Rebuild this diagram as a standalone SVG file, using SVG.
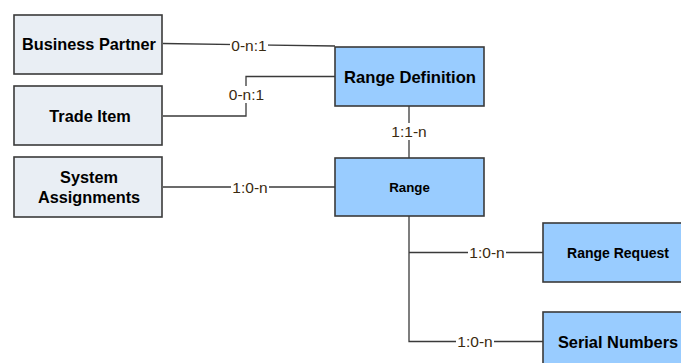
<svg xmlns="http://www.w3.org/2000/svg" width="681" height="363" viewBox="0 0 681 363">
<style>
.box{stroke:#3a3a3a;stroke-width:1.6}
.g{fill:#e9eef4}
.b{fill:#99ccff}
.t{font-family:"Liberation Sans",Arial,sans-serif;font-weight:bold;fill:#000;text-anchor:middle}
.c{fill:none;stroke:#3a3a3a;stroke-width:1.3}
.l{font-family:"Liberation Sans",Arial,sans-serif;font-size:15.5px;fill:#3a2a10;text-anchor:middle}
.lb{fill:#fff}
</style>
<rect width="681" height="363" fill="#fff"/>
<g id="connectors">
<polyline class="c" points="163,43.5 335,46"/>
<polyline class="c" points="163,116 246,116 246,76.5 335,76.5"/>
<line class="c" x1="163" y1="187" x2="335" y2="187"/>
<line class="c" x1="409" y1="106" x2="409" y2="158"/>
<polyline class="c" points="409,216 409,341.5 543,341.5"/>
<line class="c" x1="409" y1="252.5" x2="543" y2="252.5"/>
<rect class="lb" x="230" y="37" width="38" height="16"/>
<text class="l" x="249" y="51">0-n:1</text>
<rect class="lb" x="227" y="86" width="39" height="17"/>
<text class="l" x="246.5" y="100">0-n:1</text>
<rect class="lb" x="231" y="179" width="38" height="16"/>
<text class="l" x="250" y="193">1:0-n</text>
<rect class="lb" x="389" y="123" width="40" height="17"/>
<text class="l" x="409" y="137">1:1-n</text>
<rect class="lb" x="468" y="244" width="38" height="16"/>
<text class="l" x="487" y="258">1:0-n</text>
<rect class="lb" x="456" y="333" width="38" height="16"/>
<text class="l" x="475" y="347">1:0-n</text>
</g>
<g id="business-partner">
<rect class="box g" x="14" y="15" width="148" height="59"/>
<text class="t" x="89" y="50" font-size="16.3">Business Partner</text>
</g>
<g id="trade-item">
<rect class="box g" x="14" y="86" width="148" height="59"/>
<text class="t" x="90" y="121.5" font-size="16.3">Trade Item</text>
</g>
<g id="system-assignments">
<rect class="box g" x="14" y="157" width="148" height="60"/>
<text class="t" x="89" y="182.5" font-size="16.3">System</text>
<text class="t" x="89" y="202.5" font-size="16.3">Assignments</text>
</g>
<g id="range-definition">
<rect class="box b" x="335" y="47" width="149" height="59"/>
<text class="t" x="410" y="82.5" font-size="16.6">Range Definition</text>
</g>
<g id="range">
<rect class="box b" x="335" y="158" width="149" height="58"/>
<text class="t" x="409.5" y="192" font-size="13.3">Range</text>
</g>
<g id="range-request">
<rect class="box b" x="543" y="223" width="150" height="59"/>
<text class="t" x="618" y="258" font-size="14">Range Request</text>
</g>
<g id="serial-numbers">
<rect class="box b" x="543" y="312" width="150" height="60"/>
<text class="t" x="618" y="347.5" font-size="16.4">Serial Numbers</text>
</g>
</svg>
